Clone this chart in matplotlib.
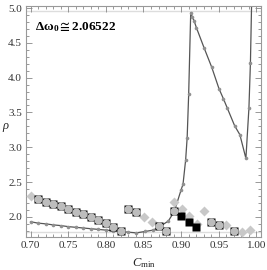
import matplotlib
matplotlib.use("Agg")
import matplotlib.pyplot as plt
from matplotlib.ticker import MultipleLocator, FormatStrFormatter

plt.rcParams['mathtext.fontset'] = 'custom'
plt.rcParams['mathtext.rm'] = 'Liberation Serif'
plt.rcParams['mathtext.it'] = 'Liberation Serif:italic'
plt.rcParams['mathtext.bf'] = 'Liberation Serif:bold'

# Series 1: line with small dots
line_x = [0.70, 0.71, 0.72, 0.73, 0.74, 0.75, 0.76, 0.77, 0.78, 0.79, 0.80, 0.81,
          0.82, 0.83, 0.8405, 0.852, 0.863, 0.8715, 0.883, 0.891, 0.900, 0.9025,
          0.906, 0.908, 0.910, 0.9127, 0.9149, 0.9171, 0.9202, 0.9304, 0.9406,
          0.9503, 0.956, 0.961, 0.971, 0.978, 0.986, 0.990, 0.992, 0.994]
line_y = [1.93, 1.91, 1.90, 1.885, 1.875, 1.86, 1.85, 1.84, 1.83, 1.82, 1.81, 1.80,
          1.79, 1.78, 1.77, 1.79, 1.81, 1.86, 1.94, 2.08, 2.39, 2.47,
          2.82, 3.14, 3.76, 4.93, 4.87, 4.82, 4.72, 4.43, 4.15,
          3.84, 3.70, 3.57, 3.31, 3.18, 2.84, 3.56, 4.21, 5.30]

# Series 2: light gray diamonds
dia_x = [0.70, 0.851, 0.861, 0.890, 0.901, 0.911, 0.921, 0.931, 0.960, 0.981, 0.991]
dia_y = [2.30, 2.00, 1.92, 2.22, 2.12, 2.01, 1.90, 2.09, 1.88, 1.78, 1.81]

# Series 3: black squares
sq_x = [0.71, 0.72, 0.73, 0.74, 0.75, 0.76, 0.77, 0.78, 0.79, 0.80, 0.81, 0.82,
        0.83, 0.84, 0.87, 0.88, 0.89, 0.90, 0.91, 0.92, 0.94, 0.95, 0.97]
sq_y = [2.26, 2.22, 2.185, 2.15, 2.11, 2.075, 2.035, 2.00, 1.955, 1.91, 1.86, 1.79,
        2.12, 2.07, 1.865, 1.79, 2.09, 2.01, 1.925, 1.85, 1.925, 1.88, 1.79]

# Series 4: gray disks
ci_x = [0.71, 0.72, 0.73, 0.74, 0.75, 0.76, 0.77, 0.78, 0.79, 0.80, 0.81, 0.82,
        0.83, 0.84, 0.87, 0.88, 0.89, 0.94, 0.95, 0.97]
ci_y = [2.26, 2.22, 2.185, 2.15, 2.11, 2.075, 2.035, 2.00, 1.955, 1.91, 1.86, 1.79,
        2.12, 2.07, 1.865, 1.79, 2.09, 1.925, 1.88, 1.79]

ref_lines = [1.78, 4.96]

fig = plt.figure(figsize=(2.67, 2.70), dpi=100)
ax = fig.add_axes([0.0974, 0.122, 0.88, 0.856])

for r in ref_lines:
    ax.axhline(r, color='#dddddd', lw=1.0, zorder=1)

ax.plot(line_x, line_y, '-', color='#555555', lw=0.9, zorder=2)
ax.plot(line_x, line_y, 'o', color='#909090', ms=2.6, mec='none', zorder=3)
ax.plot(dia_x, dia_y, 'D', color='#c8c8c8', ms=4.6, mec='none', zorder=4)
ax.plot(sq_x, sq_y, 's', color='black', ms=6.2, mec='none', zorder=5)
ax.plot(ci_x, ci_y, 'o', color='#bdbdbd', ms=5.8, mec='none', zorder=6)

ax.set_xlim(0.694, 1.006)
ax.set_ylim(1.71, 5.03)

ax.xaxis.set_major_locator(MultipleLocator(0.05))
ax.xaxis.set_minor_locator(MultipleLocator(0.01))
ax.yaxis.set_major_locator(MultipleLocator(0.5))
ax.yaxis.set_minor_locator(MultipleLocator(0.1))
ax.xaxis.set_major_formatter(FormatStrFormatter('%.2f'))
ax.yaxis.set_major_formatter(FormatStrFormatter('%.1f'))

ax.tick_params(which='both', direction='in', top=True, right=True, color='#888888',
               width=0.6, labelsize=8)
ax.tick_params(which='major', length=4, pad=3)
ax.tick_params(which='minor', length=2)
for lab in ax.get_xticklabels() + ax.get_yticklabels():
    lab.set_fontfamily('Liberation Serif')
    lab.set_color('#333333')
for s in ax.spines.values():
    s.set_color('#999999')
    s.set_linewidth(0.8)

ax.set_xlabel(r'$C_{\mathrm{min}}$', fontsize=9, color='#222222', labelpad=4)
ax.set_ylabel(r'$\rho$', fontsize=9, color='#222222', rotation=0, va='center', ha='center')
ax.yaxis.set_label_coords(-0.085, 0.476)

ax.text(0.04, 0.91, r'$\mathbf{\Delta\omega_0\cong 2.06522}$', transform=ax.transAxes,
        fontsize=9.5, color='black', ha='left', va='center')

fig.savefig('out.png', dpi=100)
